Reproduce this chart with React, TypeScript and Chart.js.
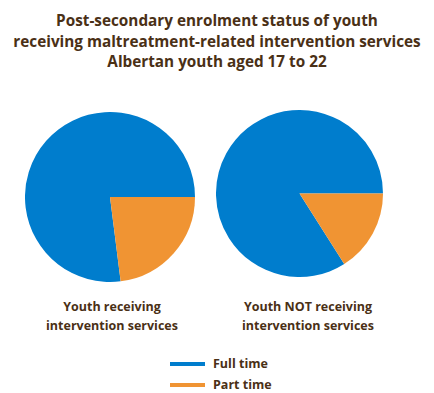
import React, { useEffect, useRef } from "react";
import { Chart, registerables } from "chart.js";

Chart.register(...registerables);

const titleLines = [
  "Post-secondary enrolment status of youth",
  "receiving maltreatment-related intervention services",
  "Albertan youth aged 17 to 22",
];
const statusLabels = ["Full time", "Part time"];
const statusColors = ["#007DCD", "#F09433"];
const groupLabels = [
  ["Youth receiving", "intervention services"],
  ["Youth NOT receiving", "intervention services"],
];
const receivingValues = [77, 23];
const notReceivingValues = [84, 16];

const TEXT = "#4A3016";
const FONT = "'Open Sans', 'DejaVu Sans', sans-serif";

function Pie({ values, size }: { values: number[]; size: number }) {
  const ref = useRef<HTMLCanvasElement | null>(null);
  useEffect(() => {
    if (!ref.current) return;
    const total = values.reduce((a, b) => a + b, 0);
    const partShare = values[1] / total;
    const chart = new Chart(ref.current, {
      type: "pie",
      data: {
        labels: statusLabels,
        datasets: [
          {
            data: values,
            backgroundColor: statusColors,
            borderWidth: 0,
          },
        ],
      },
      options: {
        responsive: false,
        animation: false,
        rotation: 90 + partShare * 360,
        layout: { padding: 0 },
        plugins: { legend: { display: false }, tooltip: { enabled: false } },
      },
    });
    return () => chart.destroy();
  }, []);
  return <canvas ref={ref} width={size} height={size} style={{ width: size, height: size, display: "block" }} />;
}

export default function App() {
  const text: React.CSSProperties = {
    position: "absolute",
    fontFamily: FONT,
    fontWeight: 700,
    color: TEXT,
    whiteSpace: "nowrap",
    textAlign: "center",
  };
  return (
    <div style={{ position: "fixed", left: 0, top: 0, width: 434, height: 393, background: "#fff", overflow: "hidden" }}>
      {titleLines.map((t, i) => (
        <div key={i} style={{ ...text, left: 0, width: 434, top: 10 + i * 20.5, fontSize: 15.3, lineHeight: "20px" }}>
          {t}
        </div>
      ))}
      <div style={{ position: "absolute", left: 25, top: 112 }}>
        <Pie values={receivingValues} size={170} />
      </div>
      <div style={{ position: "absolute", left: 216, top: 110 }}>
        <Pie values={notReceivingValues} size={167} />
      </div>
      {groupLabels.map((lines, gi) => (
        <div key={gi} style={{ ...text, left: gi === 0 ? 12 : 208, width: 200, top: 297, fontSize: 12.5, lineHeight: "19px" }}>
          {lines.map((l, li) => (
            <div key={li}>{l}</div>
          ))}
        </div>
      ))}
      {statusLabels.map((l, i) => (
        <div key={l} style={{ position: "absolute", left: 170, top: 355 + i * 21, height: 18, display: "flex", alignItems: "center" }}>
          <div style={{ width: 35, height: 4, background: statusColors[i], marginRight: 8 }} />
          <div style={{ fontFamily: FONT, fontWeight: 700, color: TEXT, fontSize: 12.5, lineHeight: "18px" }}>{l}</div>
        </div>
      ))}
    </div>
  );
}
